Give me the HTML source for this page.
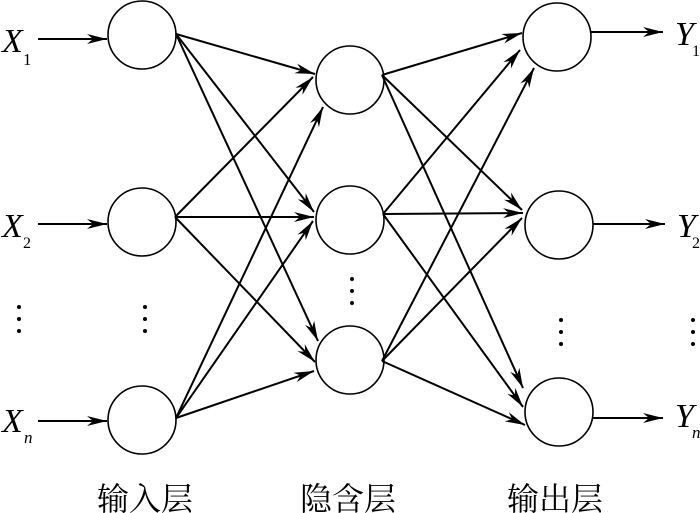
<!DOCTYPE html>
<html>
<head>
<meta charset="utf-8">
<style>
html,body{margin:0;padding:0;background:#fff;}
svg{display:block;}
.lat{font-family:"Liberation Serif",serif;font-style:italic;}
.sub{font-family:"Liberation Serif",serif;}
.cjk{font-family:"Liberation Serif","Noto Serif CJK SC","Noto Sans CJK SC",serif;}
</style>
</head>
<body>
<svg width="700" height="513" viewBox="0 0 700 513" xmlns="http://www.w3.org/2000/svg">
<defs>
<marker id="a" markerUnits="userSpaceOnUse" markerWidth="22" markerHeight="14" refX="20" refY="7" orient="auto">
<path d="M0,2 L20,7 L0,12 L6,7 Z" fill="#000"/>
</marker>
</defs>
<g fill="none" stroke="#000" stroke-width="1.6">
<circle cx="142" cy="35" r="34"/>
<circle cx="142" cy="222" r="34"/>
<circle cx="142" cy="420" r="34"/>
<circle cx="350" cy="80" r="34"/>
<circle cx="350" cy="220" r="34"/>
<circle cx="350" cy="360" r="34"/>
<circle cx="557" cy="37" r="34"/>
<circle cx="559" cy="225" r="34"/>
<circle cx="559" cy="412" r="34"/>
</g>
<g stroke="#000" stroke-width="2" marker-end="url(#a)">
<!-- inputs -->
<line x1="38" y1="39" x2="107" y2="39"/>
<line x1="38" y1="224" x2="107" y2="224"/>
<line x1="38" y1="421" x2="107" y2="421"/>
<!-- input -> hidden -->
<line x1="176" y1="34" x2="315" y2="74"/>
<line x1="176" y1="34" x2="314" y2="212"/>
<line x1="176" y1="34" x2="318" y2="341"/>
<line x1="175" y1="217" x2="313" y2="77"/>
<line x1="175" y1="217" x2="314" y2="217"/>
<line x1="175" y1="217" x2="315" y2="362"/>
<line x1="176" y1="418" x2="323" y2="107"/>
<line x1="176" y1="418" x2="313" y2="221"/>
<line x1="176" y1="418" x2="314" y2="371"/>
<!-- hidden -> output -->
<line x1="382" y1="75" x2="522" y2="33"/>
<line x1="382" y1="75" x2="522" y2="210"/>
<line x1="382" y1="75" x2="523" y2="388"/>
<line x1="383" y1="214" x2="520" y2="50"/>
<line x1="383" y1="214" x2="523" y2="213"/>
<line x1="383" y1="214" x2="523" y2="407"/>
<line x1="382" y1="361" x2="534" y2="68"/>
<line x1="382" y1="361" x2="522" y2="218"/>
<line x1="382" y1="361" x2="525" y2="425"/>
<!-- outputs -->
<line x1="591" y1="32" x2="663" y2="32"/>
<line x1="593" y1="224" x2="665" y2="224"/>
<line x1="593" y1="418" x2="663" y2="418"/>
</g>
<g fill="#000">
<circle cx="19" cy="307" r="2"/><circle cx="19" cy="319" r="2"/><circle cx="19" cy="331" r="2"/>
<circle cx="145" cy="307" r="2"/><circle cx="145" cy="319" r="2"/><circle cx="145" cy="331" r="2"/>
<circle cx="352" cy="279" r="2"/><circle cx="352" cy="291" r="2"/><circle cx="352" cy="303" r="2"/>
<circle cx="561" cy="320" r="2"/><circle cx="561" cy="332" r="2"/><circle cx="561" cy="344" r="2"/>
<circle cx="693" cy="320" r="2"/><circle cx="693" cy="332" r="2"/><circle cx="693" cy="344" r="2"/>
</g>
<g fill="#000">
<text class="lat" x="2" y="52" font-size="34">X</text>
<text class="sub" x="23" y="65" font-size="17">1</text>
<text class="lat" x="2" y="237" font-size="34">X</text>
<text class="sub" x="23" y="248" font-size="16">2</text>
<text class="lat" x="2" y="432" font-size="34">X</text>
<text class="lat" x="24" y="443" font-size="17">n</text>
<text class="lat" x="675" y="45" font-size="34">Y</text>
<text class="sub" x="692" y="56" font-size="16">1</text>
<text class="lat" x="677" y="237" font-size="34">Y</text>
<text class="sub" x="692" y="248" font-size="16">2</text>
<text class="lat" x="675" y="427" font-size="34">Y</text>
<text class="lat" x="692" y="438" font-size="17">n</text>
<text class="cjk" x="145" y="510" font-size="32" text-anchor="middle">输入层</text>
<text class="cjk" x="348" y="510" font-size="32" text-anchor="middle">隐含层</text>
<text class="cjk" x="555" y="510" font-size="32" text-anchor="middle">输出层</text>
</g>
</svg>
</body>
</html>
